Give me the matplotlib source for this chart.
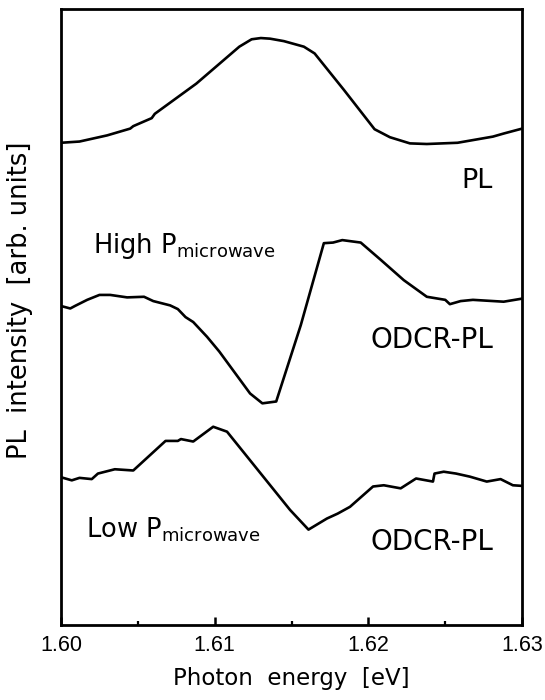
import matplotlib as mpl
from matplotlib import pyplot as plt
from matplotlib.ticker import MultipleLocator

# Photoluminescence spectrum (energies in eV, intensity in arb. units)
PL_ENERGY = [1.6000, 1.6012, 1.6030, 1.6045, 1.6047, 1.6059, 1.6061, 1.6088,
             1.6116, 1.6124, 1.6130, 1.6136, 1.6145, 1.6158, 1.6165, 1.6184,
             1.6204, 1.6214, 1.6227, 1.6238, 1.6258, 1.6281, 1.6288, 1.6300]
PL_INTENSITY = [7.83, 7.85, 7.95, 8.06, 8.10, 8.23, 8.30, 8.79,
                9.39, 9.51, 9.53, 9.52, 9.48, 9.39, 9.28, 8.69,
                8.05, 7.92, 7.82, 7.81, 7.83, 7.93, 7.98, 8.06]

# ODCR-PL at high microwave power
HIGH_ENERGY = [1.6000, 1.6006, 1.6009, 1.6017, 1.6025, 1.6032, 1.6043, 1.6054,
               1.6060, 1.6071, 1.6076, 1.6081, 1.6086, 1.6095, 1.6103, 1.6123,
               1.6126, 1.6131, 1.6140, 1.6156, 1.6171, 1.6177, 1.6183, 1.6195,
               1.6208, 1.6223, 1.6238, 1.6250, 1.6253, 1.6260, 1.6268, 1.6288,
               1.6300]
HIGH_INTENSITY = [5.18, 5.14, 5.18, 5.28, 5.36, 5.36, 5.32, 5.33,
                  5.26, 5.19, 5.13, 5.00, 4.92, 4.68, 4.44, 3.76,
                  3.70, 3.60, 3.63, 4.87, 6.20, 6.21, 6.25, 6.21,
                  5.93, 5.60, 5.33, 5.28, 5.21, 5.26, 5.28, 5.25,
                  5.30]

# ODCR-PL at low microwave power
LOW_ENERGY = [1.6000, 1.6007, 1.6012, 1.6020, 1.6024, 1.6035, 1.6047, 1.6068,
              1.6076, 1.6078, 1.6086, 1.6099, 1.6108, 1.6149, 1.6161, 1.6173,
              1.6180, 1.6188, 1.6203, 1.6210, 1.6221, 1.6231, 1.6242, 1.6243,
              1.6249, 1.6257, 1.6266, 1.6277, 1.6286, 1.6294, 1.6300]
LOW_INTENSITY = [2.40, 2.35, 2.39, 2.37, 2.46, 2.53, 2.51, 2.99,
                 2.99, 3.02, 2.98, 3.22, 3.14, 1.87, 1.55, 1.73,
                 1.81, 1.92, 2.25, 2.27, 2.22, 2.38, 2.33, 2.46,
                 2.49, 2.46, 2.41, 2.33, 2.37, 2.27, 2.26]

XTICKS = [1.60, 1.61, 1.62, 1.63]
XTICKLABELS = ["1.60", "1.61", "1.62", "1.63"]

RCPARAMS = {
    "font.family": "DejaVu Sans",
    "mathtext.fontset": "dejavusans",
    "axes.linewidth": 2.0,
}


def main():
    for key in RCPARAMS:
        mpl.rcParams[key] = RCPARAMS[key]
    fig = plt.figure(figsize=(5.45, 7.0), dpi=100)
    ax = fig.add_axes([0.112, 0.107, 0.846, 0.880])

    for energy, intensity in [
        (PL_ENERGY, PL_INTENSITY),
        (HIGH_ENERGY, HIGH_INTENSITY),
        (LOW_ENERGY, LOW_INTENSITY),
    ]:
        ax.plot(energy, intensity, color="black", linewidth=1.9,
                solid_joinstyle="round")

    ax.set_xlim(1.60, 1.63)
    ax.set_ylim(0, 10)

    ax.set_xticks(XTICKS)
    ax.set_xticklabels(XTICKLABELS, family="Liberation Sans", fontsize=15.5)
    ax.xaxis.set_minor_locator(MultipleLocator(0.005))
    ax.tick_params(axis="x", which="major", direction="in", length=6,
                   width=1.8, pad=7, top=False)
    ax.tick_params(axis="x", which="minor", direction="in", length=3,
                   width=1.6, top=False)
    ax.set_yticks([])

    ax.set_xlabel("Photon  energy  [eV]", fontsize=16.5, labelpad=8)
    ax.set_ylabel("PL  intensity  [arb. units]", fontsize=18.5)
    ax.yaxis.set_label_coords(-0.060, 0.528)

    ax.text(1.6281, 7.09, "PL", fontsize=19.5, ha="right", va="baseline")
    ax.text(1.6021, 6.04, r"High P$_{\mathrm{microwave}}$", fontsize=18.5,
            ha="left", va="baseline")
    ax.text(1.6281, 4.50, "ODCR-PL", fontsize=20, ha="right", va="baseline")
    ax.text(1.6016, 1.43, r"Low P$_{\mathrm{microwave}}$", fontsize=18.5,
            ha="left", va="baseline")
    ax.text(1.6281, 1.22, "ODCR-PL", fontsize=20, ha="right", va="baseline")

    fig.savefig("out.png", dpi=100)
    plt.close(fig=fig)


if __name__ == "__main__":
    main()
